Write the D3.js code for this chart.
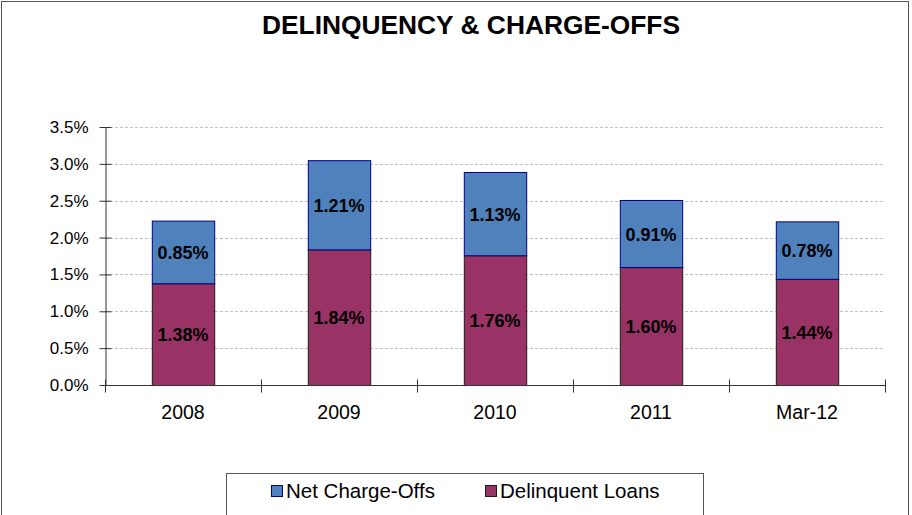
<!DOCTYPE html>
<html>
<head>
<meta charset="utf-8">
<script src="https://cdn.jsdelivr.net/npm/d3@7"></script>
<style>
  body { margin: 0; background: #fff; }
  svg text { font-family: "Liberation Sans", Arial, sans-serif; }
</style>
</head>
<body>
<div id="chart"></div>
<script>
// ===== data =====
const categories = ['2008', '2009', '2010', '2011', 'Mar-12'];
const delinquentLoans = [1.38, 1.84, 1.76, 1.60, 1.44];
const netChargeOffs = [0.85, 1.21, 1.13, 0.91, 0.78];
const yTicks = [0, 0.5, 1.0, 1.5, 2.0, 2.5, 3.0, 3.5];
const seriesNames = ['Net Charge-Offs', 'Delinquent Loans'];

const width = 912, height = 515;
const margin = { top: 127, left: 105, right: 27, bottom: 130 };

const svg = d3.select('#chart').append('svg')
    .attr('width', width)
    .attr('height', height);

// outer frame
svg.append('rect')
    .attr('x', 1.5).attr('y', 1.5)
    .attr('width', 907).attr('height', 520)
    .attr('fill', '#fff')
    .attr('stroke', '#555')
    .attr('stroke-width', 1);

svg.append('text')
    .attr('x', 471).attr('y', 34)
    .attr('text-anchor', 'middle')
    .attr('font-size', '25px')
    .attr('font-weight', 'bold')
    .attr('textLength', 418)
    .attr('lengthAdjust', 'spacingAndGlyphs')
    .text('DELINQUENCY & CHARGE-OFFS');

const x = d3.scaleBand()
    .domain(categories)
    .range([margin.left, width - margin.right])
    .paddingInner(0.6)
    .paddingOuter(0.3);

const y = d3.scaleLinear()
    .domain([0, 3.5])
    .range([385, margin.top]);

// gridlines
svg.append('g')
    .selectAll('line')
    .data(yTicks.slice(1))
    .enter().append('line')
    .attr('x1', margin.left).attr('x2', width - margin.right)
    .attr('y1', d => Math.round(y(d)) + 0.5)
    .attr('y2', d => Math.round(y(d)) + 0.5)
    .attr('stroke', '#c0c0c0')
    .attr('stroke-dasharray', '3,2');

// stacked bars
const stacked = categories.map((c, i) => ({ cat: c, del: delinquentLoans[i], nco: netChargeOffs[i] }));

const bars = svg.append('g');
bars.selectAll('rect.del')
    .data(stacked)
    .enter().append('rect')
    .attr('class', 'del')
    .attr('x', d => x(d.cat) + 0.5)
    .attr('width', x.bandwidth())
    .attr('y', d => y(d.del) + 0.5)
    .attr('height', d => y(0) - y(d.del))
    .attr('fill', '#993366')
    .attr('stroke', '#1a1a1a')
    .attr('stroke-width', 1);

bars.selectAll('rect.nco')
    .data(stacked)
    .enter().append('rect')
    .attr('class', 'nco')
    .attr('x', d => x(d.cat) + 0.5)
    .attr('width', x.bandwidth())
    .attr('y', d => y(d.del + d.nco) + 0.5)
    .attr('height', d => y(d.del) - y(d.del + d.nco))
    .attr('fill', '#4f81bd')
    .attr('stroke', '#000080')
    .attr('stroke-width', 1);

// value labels
const labels = svg.append('g')
    .attr('font-size', '18px')
    .attr('font-weight', 'bold')
    .attr('text-anchor', 'middle');
labels.selectAll('text.del')
    .data(stacked)
    .enter().append('text')
    .attr('x', d => x(d.cat) + x.bandwidth() / 2)
    .attr('y', d => y(d.del / 2) + 7)
    .text(d => d.del.toFixed(2) + '%');
labels.selectAll('text.nco')
    .data(stacked)
    .enter().append('text')
    .attr('x', d => x(d.cat) + x.bandwidth() / 2)
    .attr('y', d => y(d.del + d.nco / 2) + 7)
    .text(d => d.nco.toFixed(2) + '%');

// y axis
const yAxis = d3.axisLeft(y)
    .tickValues(yTicks)
    .tickFormat(d => d.toFixed(1) + '%')
    .tickSizeInner(5)
    .tickSizeOuter(0)
    .tickPadding(12);
const yg = svg.append('g')
    .attr('transform', `translate(${margin.left + 0.5},0)`)
    .call(yAxis);
yg.selectAll('.tick line').attr('x2', 6).attr('x1', -6).attr('stroke', '#333');
yg.select('.domain').attr('stroke', '#333');
yg.selectAll('text').attr('font-size', '17px').attr('fill', '#000');

// x axis with ticks between categories
const xg = svg.append('g')
    .attr('transform', `translate(0,${y(0) + 0.5})`);
xg.append('line')
    .attr('x1', margin.left).attr('x2', width - margin.right)
    .attr('stroke', '#333');
const step = (width - margin.left - margin.right) / categories.length;
xg.selectAll('line.tk')
    .data(d3.range(categories.length + 1))
    .enter().append('line')
    .attr('x1', i => Math.round(margin.left + i * step) + 0.5)
    .attr('x2', i => Math.round(margin.left + i * step) + 0.5)
    .attr('y1', -6).attr('y2', 7)
    .attr('stroke', '#333');
xg.selectAll('text')
    .data(categories)
    .enter().append('text')
    .attr('x', d => x(d) + x.bandwidth() / 2)
    .attr('y', 33)
    .attr('text-anchor', 'middle')
    .attr('font-size', '19.5px')
    .text(d => d);

// legend
const lg = svg.append('g');
lg.append('rect')
    .attr('x', 226.5).attr('y', 473.5)
    .attr('width', 477).attr('height', 60)
    .attr('fill', '#fff')
    .attr('stroke', '#555');
const legendItems = [
    { name: seriesNames[0], fill: '#4f81bd', stroke: '#000080', x: 271 },
    { name: seriesNames[1], fill: '#993366', stroke: '#1a1a1a', x: 485 }
];
legendItems.forEach(it => {
    lg.append('rect')
        .attr('x', it.x + 0.5).attr('y', 485.5)
        .attr('width', 11).attr('height', 11)
        .attr('fill', it.fill)
        .attr('stroke', it.stroke);
    lg.append('text')
        .attr('x', it.x + 15).attr('y', 498)
        .attr('font-size', '20.5px')
        .text(it.name);
});
</script>
</body>
</html>
